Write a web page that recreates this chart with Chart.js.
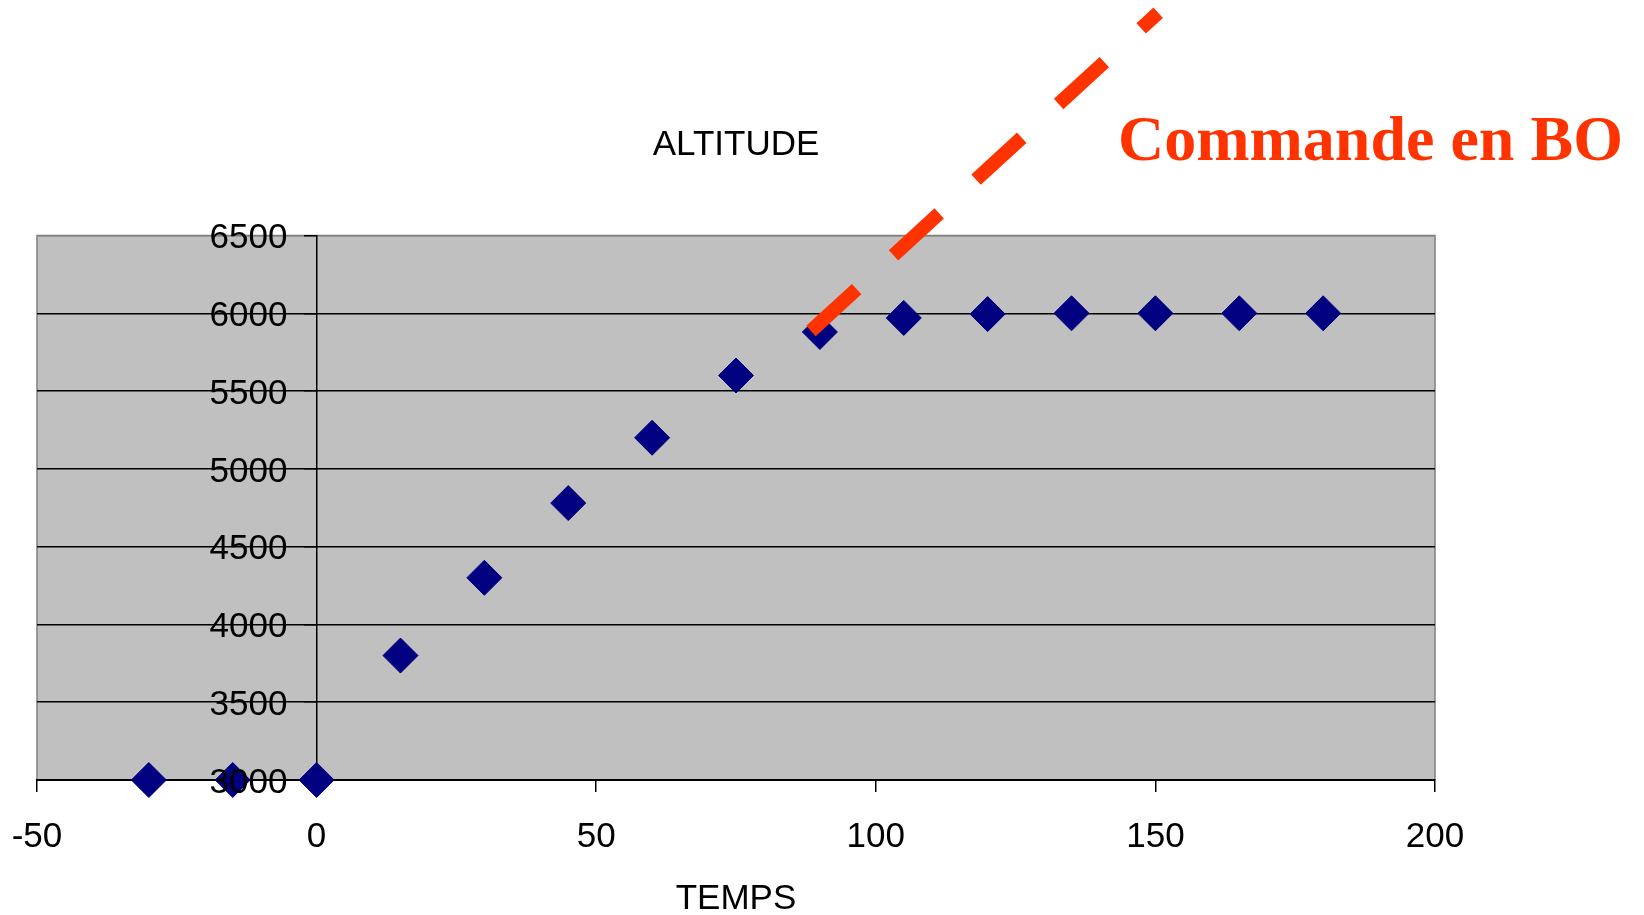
<!DOCTYPE html>
<html>
<head>
<meta charset="utf-8">
<script src="https://cdn.jsdelivr.net/npm/chart.js@4.4.0/dist/chart.umd.min.js"></script>
<style>
  html, body { margin: 0; padding: 0; background: #fff; }
  canvas { display: block; }
</style>
</head>
<body>
<canvas id="myChart" width="1644" height="915"></canvas>
<script>
// altitude measured over time
var temps = [-30, -15, 0, 15, 30, 45, 60, 75, 90, 105, 120, 135, 150, 165, 180];
var altitude = [3000, 3000, 3000, 3800, 4300, 4780, 5200, 5600, 5880, 5970, 5995, 6000, 6000, 6000, 6000];

// open loop command (BO), dashed straight line
var boTemps = [88.4, 150.5];
var boAltitude = [5886, 7932];

var xTicks = [-50, 0, 50, 100, 150, 200];
var yTicks = [3000, 3500, 4000, 4500, 5000, 5500, 6000, 6500];

var toPoints = (xs, ys) => xs.map((x, i) => ({x: x, y: ys[i]}));

var font = {family: 'Liberation Sans, Arial, sans-serif', size: 35, lineHeight: 1};

// grey plot area with its grey frame
var plotBackground = {
  id: 'plotBackground',
  beforeDraw: function (chart) {
    var a = chart.chartArea, c = chart.ctx;
    c.save();
    c.fillStyle = '#c0c0c0';
    c.fillRect(a.left, a.top, a.right - a.left, a.bottom - a.top);
    c.strokeStyle = '#808080';
    c.lineWidth = 1.5;
    c.beginPath();
    c.moveTo(a.left, a.bottom);
    c.lineTo(a.left, a.top);
    c.lineTo(a.right, a.top);
    c.lineTo(a.right, a.bottom);
    c.stroke();
    c.restore();
  }
};

var boLabel = {
  id: 'boLabel',
  afterDraw: function (chart) {
    var c = chart.ctx;
    c.save();
    c.font = 'bold 64px "Liberation Serif", "Times New Roman", serif';
    c.fillStyle = '#ff3300';
    c.textAlign = 'left';
    c.textBaseline = 'alphabetic';
    c.fillText('Commande en BO', 1118, 160);
    c.restore();
  }
};

var ctx = document.getElementById('myChart').getContext('2d');
var chart = new Chart(ctx, {
  type: 'scatter',
  data: {
    datasets: [{
      label: 'Commande en BO',
      data: toPoints(boTemps, boAltitude),
      showLine: true,
      borderColor: '#ff3300',
      borderWidth: 14,
      borderDash: [62, 50],
      pointRadius: 0,
      pointHoverRadius: 0,
      clip: false,
      order: -1
    }, {
      label: 'ALTITUDE',
      data: toPoints(temps, altitude),
      backgroundColor: '#000080',
      borderColor: '#000080',
      borderWidth: 1,
      pointStyle: 'rectRot',
      pointRadius: 17.5,
      pointHoverRadius: 17.5,
      clip: false
    }]
  },
  options: {
    responsive: false,
    devicePixelRatio: 1,
    animation: false,
    layout: {padding: {left: 37, right: 209, top: 0, bottom: 0}},
    plugins: {
      legend: {display: false},
      tooltip: {enabled: false},
      title: {
        display: true,
        text: 'ALTITUDE',
        fullSize: false,
        color: '#000',
        font: {family: font.family, size: 35, weight: 'normal', lineHeight: 1},
        padding: {top: 127.5, bottom: 73}
      }
    },
    scales: {
      x: {
        type: 'linear',
        position: 'bottom',
        min: -50,
        max: 200,
        afterBuildTicks: axis => { axis.ticks = xTicks.map(v => ({value: v})); },
        afterFit: axis => {
          axis.height = 135;
          axis.paddingLeft = 0;
          axis.paddingRight = 0;
        },
        ticks: {color: '#000', font: font, padding: 28, maxRotation: 0, autoSkip: false},
        grid: {
          drawOnChartArea: false,
          drawTicks: true,
          tickLength: 12,
          color: '#000',
          tickColor: c => (c.tick && c.tick.value === 0) ? 'rgba(0,0,0,0)' : '#000',
          lineWidth: 1.5
        },
        border: {display: true, color: '#000', width: 2},
        title: {display: true, text: 'TEMPS', color: '#000', font: font, padding: {top: 0, bottom: -2}}
      },
      y: {
        type: 'linear',
        position: {x: 0},
        min: 3000,
        max: 6500,
        afterBuildTicks: axis => { axis.ticks = yTicks.map(v => ({value: v})); },
        afterFit: axis => {
          axis.paddingTop = 0;
          axis.paddingBottom = 0;
        },
        // labels sit left of the axis line, past the tick marks, above the markers
        ticks: {color: '#000', font: font, padding: 0, labelOffset: 3, z: 1, callback: v => String(v) + '   '},
        grid: {
          color: c => (c.tick && c.tick.value === 6500) ? '#808080' : '#000',
          tickColor: '#000',
          lineWidth: 1.5,
          tickLength: 12,
          drawTicks: true
        },
        border: {display: true, color: '#000', width: 1.5}
      }
    }
  },
  plugins: [plotBackground, boLabel]
});
</script>
</body>
</html>
